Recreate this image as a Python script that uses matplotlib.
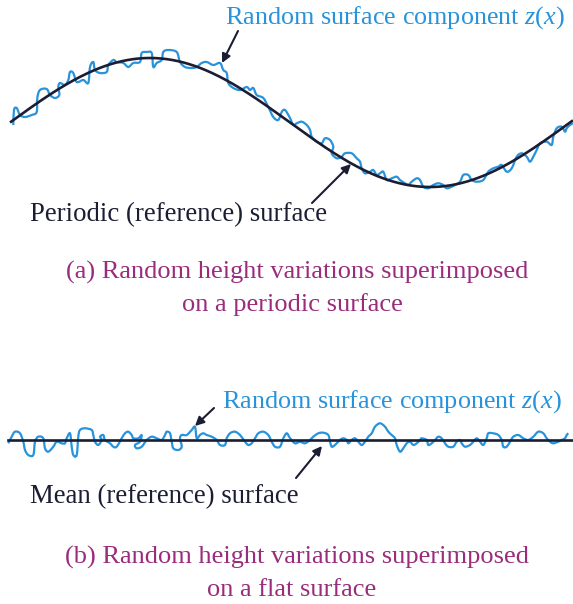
import matplotlib
matplotlib.use("Agg")
import matplotlib.pyplot as plt
from matplotlib.path import Path
from matplotlib.patches import PathPatch
import numpy as np

plt.rcParams['font.family'] = ['Liberation Serif', 'DejaVu Serif']
plt.rcParams['mathtext.fontset'] = 'custom'
plt.rcParams['mathtext.rm'] = 'Liberation Serif'
plt.rcParams['mathtext.it'] = 'Liberation Serif:italic'

# reference surfaces (figure pixel units, y grows downward)
periodic_mean = 122.5
periodic_amp = 64.5
periodic_period = 560.0
periodic_start = 10.0
flat_level = 440.0

# traced rough profile on the periodic surface
rough_a_x = [13.3, 14, 16.7, 20, 25, 31.7, 36.7, 37.3, 40, 46.7, 50, 55, 59.3, 58.3, 60, 65,
             68.3, 70, 73.3, 76.7, 83.3, 88.3, 90, 93.3, 95, 100, 106.7, 108.3, 113.3, 116.7,
             123.3, 128.3, 133.3, 140, 141.7, 146.7, 151.7, 153.3, 156.7, 161.7, 163.3, 168.3,
             176.7, 180, 185, 191.7, 196.7, 201.7, 206.7, 213.3, 220, 223.3, 226.7, 228.3, 233.3,
             240, 246.7, 250, 253.3, 256.7, 263.3, 268.3, 273.3, 278.3, 281.7, 285, 290, 293.3,
             296.7, 301.7, 306.7, 310, 311.7, 316.7, 321.7, 325, 330, 333.3, 331.7, 336.7, 341.7,
             345, 351.7, 356.7, 360, 361.7, 365, 370, 373.3, 376.7, 380, 383.3, 386.7, 391.7,
             396.7, 400, 405, 408.3, 411.7, 416.7, 420, 423.3, 428.3, 433.3, 438.3, 443.3, 446.7,
             451.7, 455, 460, 463.3, 468.3, 471.7, 476.7, 483.3, 488.3, 493.3, 498.3, 501.7,
             506.7, 511.7, 516.7, 521.7, 526.7, 530, 533.3, 536.7, 540, 546.7, 551.7, 553.3,
             556.7, 561.7, 565, 566.7, 570, 573]
rough_a_y = [125, 110, 108, 115, 117, 115, 112, 98, 90, 89, 95, 98, 95, 87, 83, 85,
             80, 72, 73, 82, 80, 83, 67, 62, 70, 73, 72, 65, 60, 62,
             63, 67, 63, 62, 53, 52, 53, 67, 63, 60, 52, 50,
             52, 62, 67, 68, 67, 63, 62, 65, 63, 70, 73, 83, 88,
             90, 87, 90, 88, 95, 98, 107, 117, 120, 112, 110, 118, 125,
             123.3, 121.7, 125, 130, 136.7, 141.7, 143.3, 138.3, 140, 146.7, 153.3, 158.3, 156.7,
             153.3, 153.3, 158.3, 161.7, 168.3, 173.3, 171.7, 170, 175, 173.3, 171.7, 180, 178.3,
             176.7, 180, 183.3, 185, 181.7, 178.3, 180, 186.7, 188.3, 185, 183.3, 185, 188.3,
             186.7, 185, 181.7, 175, 175, 180, 181.7, 180, 171.7, 168.3, 166.7, 165,
             171.7, 168.3, 156.7, 153.3, 156.7, 161.7, 156.7, 150, 143.3, 141.7, 145, 136.7,
             128.3, 126.7, 131.7, 128.3, 125, 123.3]

# traced rough profile on the flat surface
rough_b_x = [8.3, 11.7, 15, 20, 23.3, 25, 28.3, 33.3, 35, 38.3, 43.3, 45, 48.3, 53.3, 56.7,
             61.7, 65, 66.7, 70, 71.7, 73.3, 76.7, 78.3, 80, 85, 91.7, 93.3, 95, 98.3, 101.7,
             100, 103.3, 105, 110, 113.3, 116.7, 121.7, 125, 128.3, 131.7, 133.3, 138.3, 141.7,
             140, 135, 136.7, 141.7, 146.7, 151.7, 156.7, 161.7, 165, 166.7, 170, 171.7, 173.3,
             178.3, 181.7, 180, 181.7, 186.7, 191.7, 195, 196.7, 200, 203.3, 206.7, 211.7, 216.7,
             220, 225, 226.7, 230, 235, 240, 245, 248.3, 251.7, 255, 258.3, 263.3, 268.3, 271.7,
             275, 280, 283.3, 286.7, 290, 295, 300, 305, 310, 313.3, 318.3, 323.3, 328.3, 330,
             331.7, 335, 340, 343.3, 346.7, 348.3, 351.7, 355, 358.3, 361.7, 365, 368.3, 371.7,
             375, 380, 385, 388.3, 391.7, 395, 396.7, 400, 403.3, 406.7, 410, 413.3, 416.7, 420,
             421.7, 426.7, 428.3, 431.7, 435, 438.3, 441.7, 445, 448.3, 453.3, 456.7, 460, 461.7,
             465, 470, 473.3, 476.7, 480, 483.3, 486.7, 488.3, 493.3, 498.3, 501.7, 503.3, 506.7,
             510, 513.3, 518.3, 523.3, 528.3, 533.3, 538.3, 543.3, 546.7, 550, 553.3, 558.3,
             561.7, 565, 566.7, 568.3]
rough_b_y = [443.3, 436.7, 431.7, 433.3, 441.7, 450, 455, 455, 441.7, 436.7, 438.3, 448.3, 451.7,
             446.7, 441.7, 443.3, 443.3, 438.3, 433.3, 446.7, 455, 455, 436.7, 430, 428.3, 430,
             435, 441.7, 445, 440, 436.7, 435, 440, 443.3, 446.7, 446.7, 438.3, 433.3, 431.7, 435,
             438.3, 438.3, 435, 441.7, 445, 448.3, 446.7, 440, 436.7, 438.3, 440, 435, 431.7,
             433.3, 441.7, 448.3, 450, 446.7, 438.3, 435, 435, 430, 426.7, 438.3, 435, 433.3,
             435, 436.7, 440, 445, 445, 438.3, 433.3, 431.7, 435, 441.7, 445, 443.3, 438.3, 433.3,
             431.7, 435, 441.7, 446.7, 446.7, 438.3, 433.3, 438, 443.3, 441.7, 443.3, 440, 436.7,
             433.3, 432.7, 435, 441.7, 446.7, 445, 440, 438.3, 440, 443.3, 440, 438.3, 441.7, 445,
             441.7, 436.7, 433.3, 426.7, 423.3, 426.7, 431.7, 435, 438.3, 445, 451.7, 448.3, 443.3,
             441.7, 445, 443.3, 440, 438.3, 440, 445, 443.3, 440, 436.7, 438.3, 443.3, 446.7,
             446.7, 441.7, 440, 443.3, 446.7, 445, 441.7, 438.3, 441.7, 445, 438.3, 433.3, 433.3,
             435, 440, 446.7, 446.7, 441.7, 436.7, 435, 438.3, 440, 436.7, 431.7, 433.3, 438.3,
             441.7, 443.3, 441.7, 440, 438.3, 435, 433.3]

label_rough = "Random surface component $z$($x$)"
label_periodic = "Periodic (reference) surface"
label_mean = "Mean (reference) surface"
caption_a = ["(a) Random height variations superimposed", "on a periodic surface"]
caption_b = ["(b) Random height variations superimposed", "on a flat surface"]

navy = '#1b1d33'
blue = '#2893db'
purple = '#9a2c7c'


def rough_path(xv, yv):
    # catmull-rom as cubic beziers: the curve passes through every traced point
    pts = np.column_stack([xv, yv]).astype(float)
    ext = np.vstack([pts[0], pts, pts[-1]])
    verts = [pts[0]]
    codes = [Path.MOVETO]
    for i in range(1, len(ext) - 2):
        p0, p1, p2, p3 = ext[i - 1], ext[i], ext[i + 1], ext[i + 2]
        verts += [p1 + (p2 - p0) / 6, p2 - (p3 - p1) / 6, p2]
        codes += [Path.CURVE4] * 3
    return Path(verts, codes)


fig = plt.figure(figsize=(5.73, 6.04), dpi=100)
ax = fig.add_axes([0, 0, 1, 1])
ax.set_xlim(0, 573)
ax.set_ylim(604, 0)
ax.axis('off')

# (a) periodic surface
xs = np.linspace(periodic_start, 573, 400)
ys = periodic_mean - periodic_amp * np.sin(2 * np.pi * (xs - periodic_start) / periodic_period)
ax.plot(xs, ys, color=navy, lw=1.9, solid_capstyle='butt')
ax.add_patch(PathPatch(rough_path(rough_a_x, rough_a_y), fill=False, edgecolor=blue,
                       lw=1.6, joinstyle='round'))

# (b) flat surface
ax.plot([8, 573], [flat_level, flat_level], color=navy, lw=1.9)
ax.add_patch(PathPatch(rough_path(rough_b_x, rough_b_y), fill=False, edgecolor=blue,
                       lw=1.6, joinstyle='round'))

arrow = dict(arrowstyle='-|>', color=navy, lw=1.5, mutation_scale=13, shrinkA=0, shrinkB=0)

ax.text(225, 18, label_rough, color=blue, fontsize=18.8, va='center', ha='left')
ax.annotate('', xy=(222, 63), xytext=(238, 31), arrowprops=arrow)
ax.text(30, 215, label_periodic, color=navy, fontsize=19.3, va='center', ha='left')
ax.annotate('', xy=(351, 164), xytext=(312, 203), arrowprops=arrow)
ax.text(297, 272, caption_a[0], color=purple, fontsize=19, va='center', ha='center')
ax.text(292, 305, caption_a[1], color=purple, fontsize=19, va='center', ha='center')

ax.text(222, 402, label_rough, color=blue, fontsize=18.8, va='center', ha='left')
ax.annotate('', xy=(195, 426), xytext=(214, 408), arrowprops=arrow)
ax.text(30, 497, label_mean, color=navy, fontsize=19.3, va='center', ha='left')
ax.annotate('', xy=(322, 446), xytext=(296, 478), arrowprops=arrow)
ax.text(297, 557, caption_b[0], color=purple, fontsize=19, va='center', ha='center')
ax.text(292, 590, caption_b[1], color=purple, fontsize=19, va='center', ha='center')

fig.savefig('out.png', dpi=100)
